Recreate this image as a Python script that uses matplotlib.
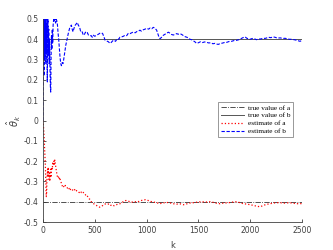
import matplotlib
matplotlib.use("Agg")
import matplotlib.pyplot as plt

plt.rcParams['axes.unicode_minus'] = False

true_a = -0.4
true_b = 0.4

# (k, estimate of b)
est_b_points = [
    (0, 0.0), (2, 0.12), (4, 0.5), (6, 0.3), (8, 0.5), (10, 0.22), (12, 0.48), (15, 0.3),
    (18, 0.5), (21, 0.35), (24, 0.5), (27, 0.28), (30, 0.46), (33, 0.33), (36, 0.5),
    (39, 0.3), (42, 0.19), (45, 0.4), (48, 0.5), (52, 0.32), (56, 0.45), (60, 0.28),
    (64, 0.4), (68, 0.25), (72, 0.16), (75, 0.14), (78, 0.3), (82, 0.42), (86, 0.35),
    (90, 0.45), (94, 0.38), (98, 0.47), (104, 0.5), (110, 0.49), (116, 0.5), (122, 0.48),
    (128, 0.5), (134, 0.49), (140, 0.47), (146, 0.43), (151, 0.405), (158, 0.36),
    (165, 0.31), (172, 0.28), (178, 0.27), (185, 0.285), (193, 0.28), (200, 0.3),
    (209, 0.33), (220, 0.37), (234, 0.405), (245, 0.43), (257, 0.454), (265, 0.462),
    (274, 0.47), (282, 0.45), (290, 0.437), (300, 0.455), (312, 0.47), (320, 0.475),
    (331, 0.483), (341, 0.47), (354, 0.459), (363, 0.44), (370, 0.442), (380, 0.435),
    (389, 0.42), (402, 0.426), (410, 0.435), (421, 0.43), (428, 0.433), (440, 0.42),
    (454, 0.417), (466, 0.418), (476, 0.41), (486, 0.42), (500, 0.415), (518, 0.42),
    (535, 0.425), (550, 0.43), (565, 0.432), (576, 0.428), (590, 0.41), (599, 0.396),
    (615, 0.392), (631, 0.388), (647, 0.38), (660, 0.385), (672, 0.392), (685, 0.396),
    (700, 0.39), (717, 0.403), (730, 0.40), (743, 0.41), (760, 0.412), (776, 0.415),
    (792, 0.42), (808, 0.418), (824, 0.43), (840, 0.428), (856, 0.432), (872, 0.436),
    (890, 0.432), (905, 0.438), (920, 0.44), (936, 0.445), (950, 0.44), (968, 0.447),
    (985, 0.45), (1001, 0.454), (1020, 0.45), (1035, 0.456), (1050, 0.452), (1065, 0.459),
    (1080, 0.455), (1097, 0.445), (1110, 0.425), (1120, 0.41), (1130, 0.403), (1145, 0.41),
    (1162, 0.42), (1178, 0.425), (1194, 0.43), (1210, 0.435), (1226, 0.43), (1240, 0.424),
    (1258, 0.421), (1275, 0.425), (1290, 0.428), (1305, 0.425), (1322, 0.428),
    (1338, 0.424), (1355, 0.418), (1371, 0.413), (1390, 0.41), (1405, 0.404), (1420, 0.40),
    (1435, 0.398), (1451, 0.393), (1465, 0.388), (1483, 0.38), (1500, 0.383), (1520, 0.388),
    (1540, 0.384), (1560, 0.387), (1580, 0.385), (1600, 0.382), (1620, 0.383),
    (1640, 0.378), (1660, 0.38), (1680, 0.376), (1692, 0.375), (1710, 0.379), (1730, 0.381),
    (1750, 0.384), (1773, 0.385), (1795, 0.389), (1820, 0.39), (1845, 0.394), (1869, 0.395),
    (1890, 0.398), (1910, 0.403), (1930, 0.408), (1950, 0.412), (1965, 0.406),
    (1980, 0.402), (1998, 0.40), (2020, 0.404), (2040, 0.403), (2060, 0.398), (2080, 0.402),
    (2095, 0.401), (2120, 0.404), (2150, 0.405), (2175, 0.41), (2200, 0.408), (2220, 0.412),
    (2239, 0.41), (2260, 0.406), (2290, 0.407), (2315, 0.404), (2336, 0.405), (2360, 0.402),
    (2380, 0.40), (2400, 0.40), (2425, 0.398), (2450, 0.395), (2470, 0.392), (2481, 0.39),
    (2492, 0.393), (2500, 0.392),
]

# (k, estimate of a)
est_a_points = [
    (0, 0.0), (5, -0.03), (10, -0.07), (16, -0.14), (20, -0.18), (23, -0.22), (26, -0.27),
    (29, -0.33), (32, -0.375), (35, -0.36), (38, -0.3), (42, -0.26), (45, -0.24),
    (48, -0.27), (52, -0.23), (55, -0.25), (58, -0.29), (62, -0.26), (66, -0.3), (70, -0.27),
    (74, -0.24), (78, -0.28), (82, -0.25), (86, -0.23), (90, -0.24), (94, -0.21),
    (98, -0.22), (102, -0.205), (106, -0.2), (110, -0.215), (114, -0.195), (118, -0.21),
    (124, -0.23), (130, -0.25), (136, -0.27), (142, -0.28), (148, -0.275), (155, -0.29),
    (162, -0.28), (170, -0.3), (180, -0.31), (188, -0.325), (196, -0.32), (205, -0.33),
    (215, -0.32), (228, -0.325), (238, -0.335), (248, -0.33), (260, -0.345), (270, -0.335),
    (280, -0.34), (293, -0.345), (303, -0.338), (315, -0.35), (325, -0.345), (338, -0.35),
    (350, -0.355), (360, -0.348), (372, -0.355), (385, -0.35), (395, -0.36), (405, -0.362),
    (415, -0.37), (425, -0.368), (434, -0.378), (445, -0.385), (456, -0.39), (466, -0.40),
    (478, -0.405), (490, -0.41), (502, -0.415), (515, -0.418), (530, -0.423), (547, -0.427),
    (560, -0.425), (579, -0.418), (595, -0.412), (611, -0.41), (625, -0.413), (640, -0.41),
    (655, -0.418), (670, -0.415), (685, -0.42), (700, -0.418), (720, -0.412), (743, -0.41),
    (760, -0.405), (780, -0.398), (800, -0.394), (820, -0.397), (840, -0.40), (860, -0.402),
    (880, -0.399), (905, -0.402), (930, -0.398), (950, -0.394), (970, -0.392), (990, -0.39),
    (1005, -0.392), (1030, -0.397), (1050, -0.40), (1070, -0.402), (1090, -0.404),
    (1110, -0.407), (1130, -0.41), (1150, -0.406), (1175, -0.405), (1200, -0.404),
    (1226, -0.406), (1258, -0.41), (1290, -0.412), (1320, -0.41), (1354, -0.415),
    (1380, -0.412), (1410, -0.407), (1451, -0.405), (1490, -0.402), (1530, -0.40),
    (1570, -0.402), (1612, -0.40), (1640, -0.403), (1670, -0.407), (1708, -0.41),
    (1740, -0.407), (1790, -0.405), (1830, -0.402), (1869, -0.40), (1900, -0.405),
    (1934, -0.41), (1970, -0.412), (2000, -0.415), (2030, -0.418), (2060, -0.422),
    (2095, -0.425), (2120, -0.42), (2150, -0.414), (2191, -0.41), (2220, -0.407),
    (2250, -0.405), (2288, -0.405), (2330, -0.407), (2380, -0.405), (2420, -0.408),
    (2450, -0.41), (2480, -0.409), (2500, -0.41),
]

k_b = [p[0] for p in est_b_points]
est_b = [p[1] for p in est_b_points]
k_a = [p[0] for p in est_a_points]
est_a = [p[1] for p in est_a_points]

x_ticks = [0, 500, 1000, 1500, 2000, 2500]
y_ticks = [-0.5, -0.4, -0.3, -0.2, -0.1, 0, 0.1, 0.2, 0.3, 0.4, 0.5]
y_labels = ['-0.5', '-0.4', '-0.3', '-0.2', '-0.1', '0', '0.1', '0.2', '0.3', '0.4', '0.5']
legend_labels = ['true value of a', 'true value of b', 'estimate of a', 'estimate of b']

fig = plt.figure(figsize=(3.33, 2.5), dpi=100)
ax = fig.add_axes([0.129, 0.112, 0.778, 0.812])

ax.plot([0, 2500], [true_a, true_a], color='#333333', ls='-.', lw=0.6, label=legend_labels[0])
ax.plot([0, 2500], [true_b, true_b], color='#555555', ls='-', lw=0.7, label=legend_labels[1])
ax.plot(k_a, est_a, color='red', ls=':', lw=0.9, label=legend_labels[2])
ax.plot(k_b, est_b, color='blue', ls='--', lw=0.8, label=legend_labels[3], dashes=(3, 1.5))

ax.set_xlim(0, 2500)
ax.set_ylim(-0.5, 0.5)
ax.set_xticks(x_ticks)
ax.set_yticks(y_ticks)
ax.set_yticklabels(y_labels)
for s in ['top', 'right']:
    ax.spines[s].set_visible(False)
for s in ['left', 'bottom']:
    ax.spines[s].set_color('#404040')
    ax.spines[s].set_linewidth(0.6)
ax.tick_params(direction='in', length=2.5, width=0.6, color='#404040',
               labelsize=5.5, labelcolor='#404040', pad=3)

ax.set_xlabel('k', fontsize=6, color='#404040', labelpad=4)
ax.set_ylabel(r'$\hat{\theta}_k$', fontsize=7, color='#404040', labelpad=1)

leg = ax.legend(loc='upper left', bbox_to_anchor=(0.676, 0.591),
                prop={'family': 'Liberation Serif', 'size': 5.2},
                fancybox=False, framealpha=1, edgecolor='#888888',
                handlelength=3.3, handletextpad=0.5, borderpad=0.35,
                labelspacing=0.25, borderaxespad=0)
leg.get_frame().set_linewidth(0.6)

fig.savefig('out.png', dpi=100)
